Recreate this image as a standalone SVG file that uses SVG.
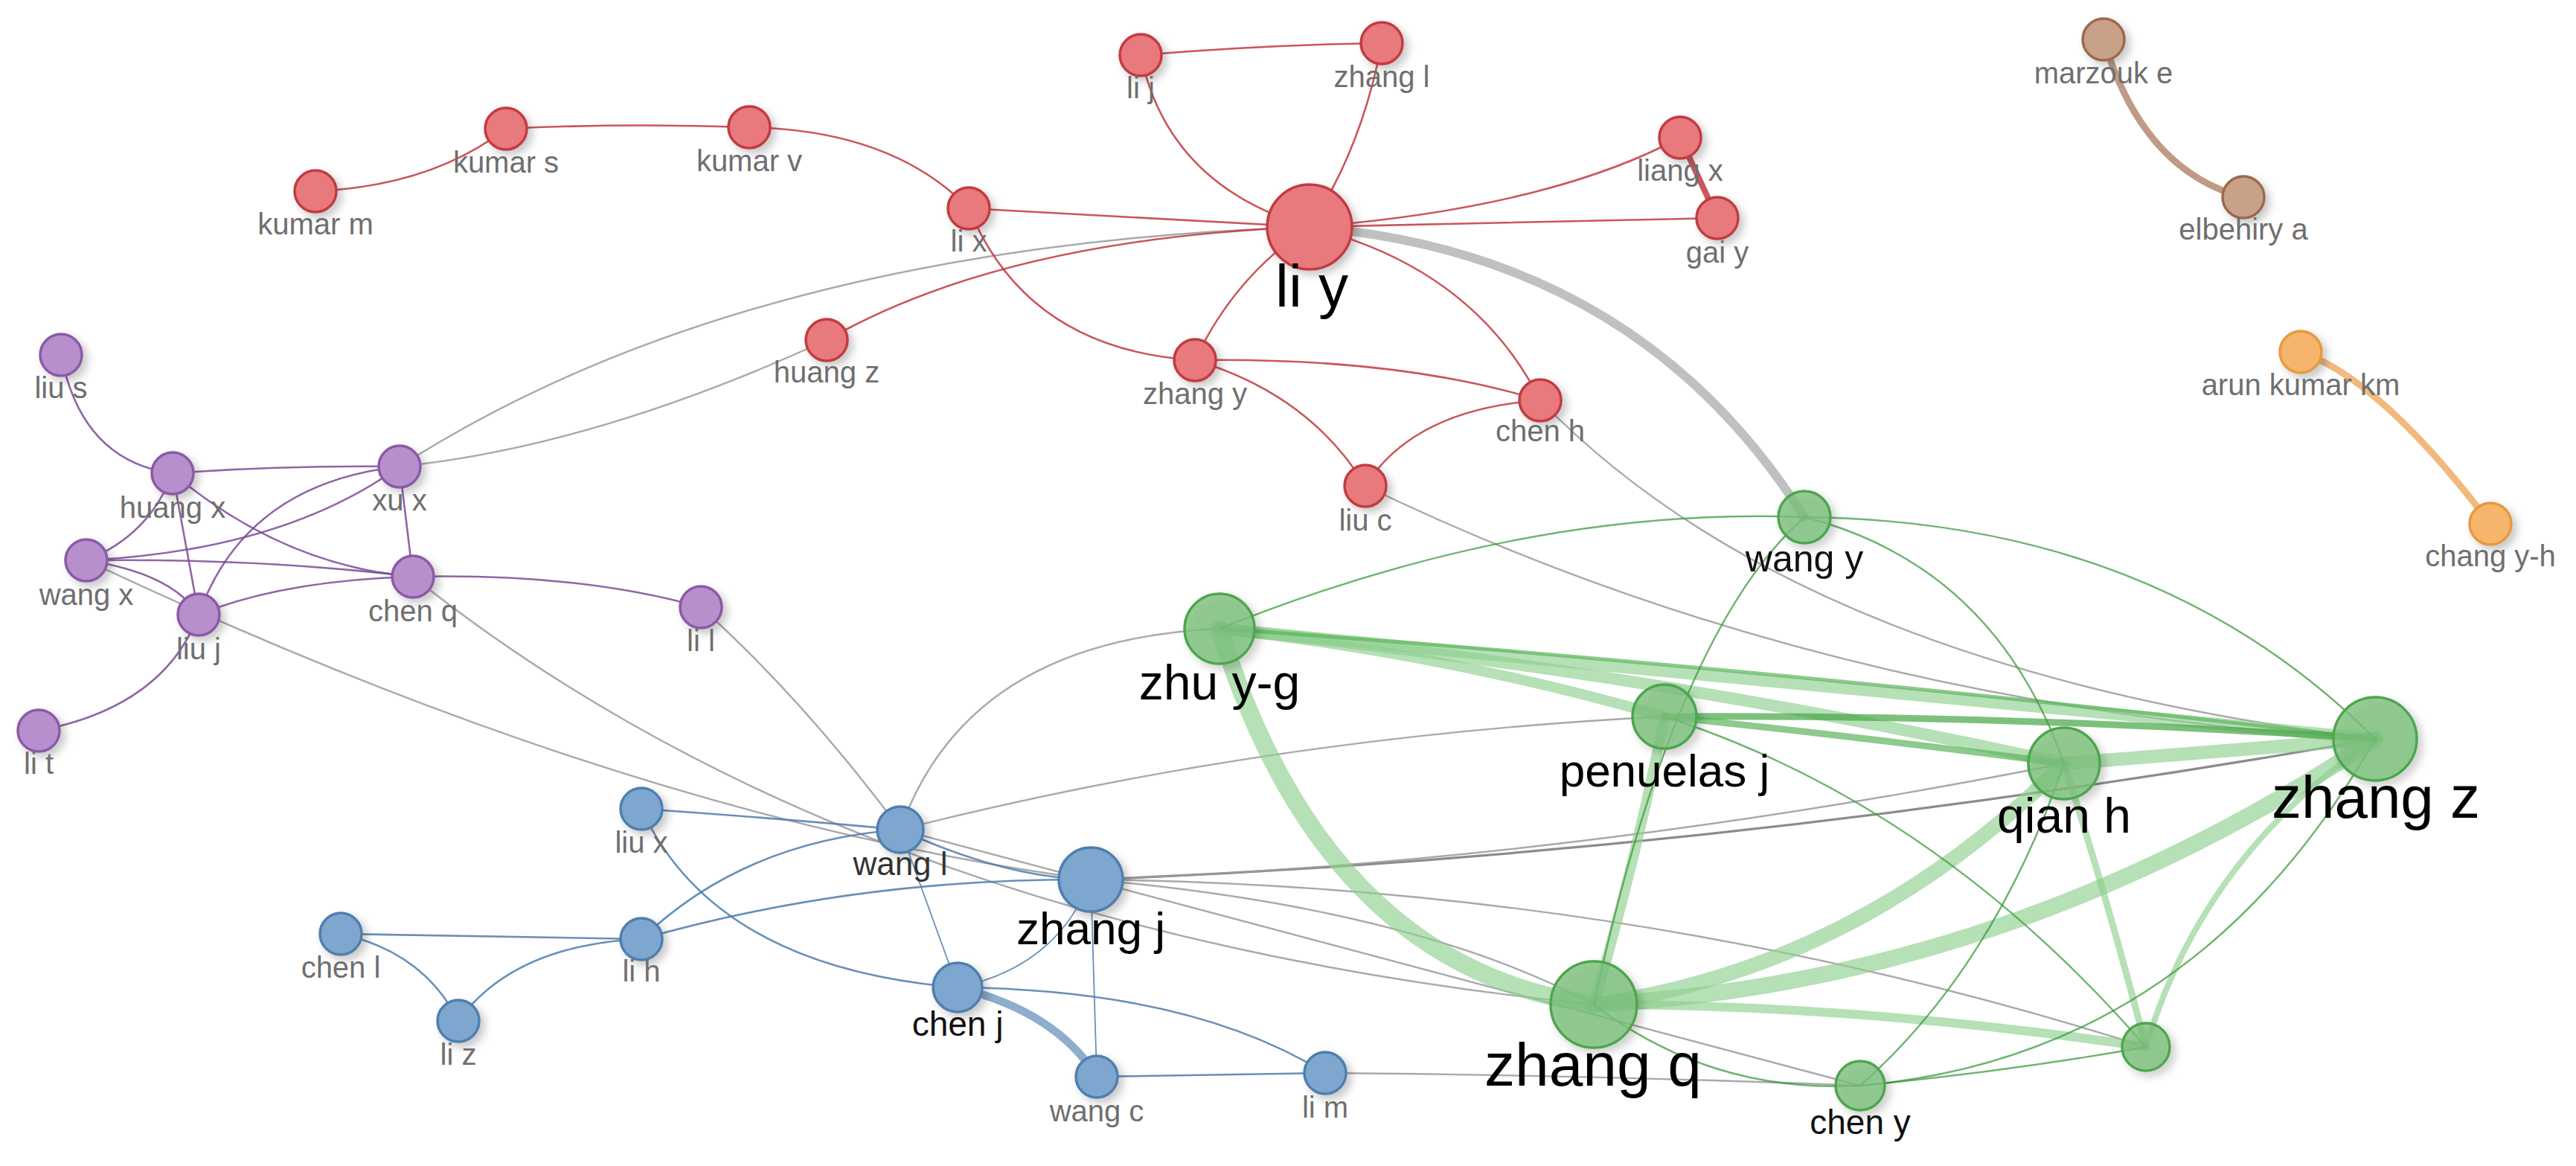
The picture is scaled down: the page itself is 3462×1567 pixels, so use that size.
<svg xmlns="http://www.w3.org/2000/svg" width="3462" height="1567" viewBox="0 0 3462 1567">
<style>
.e{fill:none;stroke-linecap:round}
.r{stroke:#c0393f;stroke-width:2.6;opacity:.85}
.p{stroke:#7b4b96;stroke-width:2.6;opacity:.85}
.b{stroke:#4d7cab;stroke-width:2.6;opacity:.85}
.g{stroke:#3d9a3d;stroke-width:2.4;opacity:.75}
.gk{stroke:#8fcf8f;opacity:.65}
.gd{stroke:#5cb35c;opacity:.7}
.y{stroke:#9a9a9a;stroke-width:2.4;opacity:.85}
.n circle{stroke-width:3.5;filter:url(#sh)}
.nr circle{fill:#e8797c;stroke:#c23a3f}
.np circle{fill:#b68fcc;stroke:#8a5aa6}
.nb circle{fill:#7ea7cf;stroke:#4f7fae}
.ng circle{fill:#7cc07c;fill-opacity:.8;stroke:#4ea64e}
.nw circle{fill:#c9a088;stroke:#9b6a4e}
.no circle{fill:#f6b46c;stroke:#e59a40}
text{font-family:"Liberation Sans",Arial,sans-serif;text-anchor:middle}
.s{font-size:40px;fill:#6f6f6f}
.m{font-size:46px;fill:#111}
.l{fill:#000}
</style>
<defs>
<filter id="sh" x="-50%" y="-50%" width="200%" height="200%">
<feDropShadow dx="6" dy="6" stdDeviation="6" flood-color="#000" flood-opacity="0.22"/>
</filter>
</defs>
<rect width="3462" height="1567" fill="#fff"/>
<g id="connectors">
<!-- gray inter-cluster -->
<path class="e y" d="M1760,305 Q2200,340 2425,695" style="stroke:#bdbdbd;stroke-width:12;opacity:.95"/>
<path class="e y" d="M537,627 Q1000,330 1760,305"/>
<path class="e y" d="M537,627 Q800,600 1111,457"/>
<path class="e y" d="M1835,653 Q2450,950 3192,993"/>
<path class="e y" d="M2070,538 Q2420,900 3192,993"/>
<path class="e y" d="M942,816 Q1080,940 1210,1115"/>
<path class="e y" d="M1210,1115 Q1300,860 1639,845"/>
<path class="e y" d="M1210,1115 Q1700,990 2237,963"/>
<path class="e y" d="M116,753 Q850,1100 1466,1182"/>
<path class="e y" d="M555,775 Q1150,1250 2142,1350"/>
<path class="e y" d="M1466,1182 Q2300,1150 3192,993" style="stroke-width:3.2;stroke:#777"/>
<path class="e y" d="M1466,1182 Q2100,1160 2774,1026"/>
<path class="e y" d="M1466,1182 Q2200,1190 2884,1407"/>
<path class="e y" d="M1466,1182 Q1900,1220 2142,1350"/>
<path class="e y" d="M1210,1115 Q1900,1300 2500,1459"/>
<path class="e y" d="M1781,1442 Q2150,1445 2500,1459"/>
<!-- red -->
<path class="e r" d="M424,257 Q580,250 680,173"/>
<path class="e r" d="M680,173 Q843,165 1007,171"/>
<path class="e r" d="M1007,171 Q1200,175 1302,280"/>
<path class="e r" d="M1302,280 Q1500,290 1760,305"/>
<path class="e r" d="M1302,280 Q1380,470 1606,484"/>
<path class="e r" d="M1111,457 Q1350,320 1760,305"/>
<path class="e r" d="M1533,74 Q1700,60 1857,58"/>
<path class="e r" d="M1533,74 Q1570,250 1760,305"/>
<path class="e r" d="M1857,58 Q1830,200 1760,305"/>
<path class="e r" d="M1760,305 Q2080,280 2258,185"/>
<path class="e r" d="M1760,305 Q2030,300 2308,293"/>
<path class="e r" d="M2258,185 L2308,293" style="stroke-width:8"/>
<path class="e r" d="M1760,305 Q1980,360 2070,538"/>
<path class="e r" d="M1760,305 Q1660,370 1606,484"/>
<path class="e r" d="M1606,484 Q1880,480 2070,538"/>
<path class="e r" d="M1606,484 Q1760,530 1835,653"/>
<path class="e r" d="M1835,653 Q1900,550 2070,538"/>
<!-- brown / orange -->
<path class="e" d="M2827,53 Q2880,230 3015,265" style="stroke:#b48a70;stroke-width:9;opacity:.85"/>
<path class="e" d="M3092,473 Q3200,510 3347,704" style="stroke:#f0ad68;stroke-width:9;opacity:.85"/>
<!-- purple -->
<path class="e p" d="M82,477 Q110,620 232,636"/>
<path class="e p" d="M232,636 Q380,625 537,627"/>
<path class="e p" d="M232,636 Q200,720 116,753"/>
<path class="e p" d="M232,636 L267,826"/>
<path class="e p" d="M232,636 Q380,760 555,775"/>
<path class="e p" d="M116,753 Q380,740 537,627"/>
<path class="e p" d="M116,753 Q350,750 555,775"/>
<path class="e p" d="M116,753 Q230,770 267,826"/>
<path class="e p" d="M267,826 Q330,650 537,627"/>
<path class="e p" d="M267,826 Q380,780 555,775"/>
<path class="e p" d="M52,982 Q220,950 267,826"/>
<path class="e p" d="M537,627 L555,775"/>
<path class="e p" d="M555,775 Q780,770 942,816"/>
<!-- blue -->
<path class="e b" d="M862,1087 Q1050,1100 1210,1115"/>
<path class="e b" d="M862,1087 Q960,1300 1287,1327"/>
<path class="e b" d="M862,1262 Q1000,1130 1210,1115"/>
<path class="e b" d="M862,1262 Q1150,1180 1466,1182"/>
<path class="e b" d="M458,1255 L862,1262"/>
<path class="e b" d="M458,1255 Q570,1280 616,1372"/>
<path class="e b" d="M616,1372 Q690,1270 862,1262"/>
<path class="e b" d="M1210,1115 L1287,1327" style="stroke-width:1.8"/>
<path class="e b" d="M1210,1115 Q1350,1180 1466,1182"/>
<path class="e b" d="M1466,1182 Q1420,1300 1287,1327" style="stroke-width:1.8"/>
<path class="e b" d="M1466,1182 L1474,1447" style="stroke-width:1.8"/>
<path class="e b" d="M1287,1327 Q1420,1360 1474,1447" style="stroke:#7b9fc4;stroke-width:11"/>
<path class="e b" d="M1287,1327 Q1600,1330 1781,1442"/>
<path class="e b" d="M1474,1447 L1781,1442"/>
<!-- green thick -->
<path class="e gk" d="M1639,845 Q1780,1300 2142,1350" style="stroke-width:24"/>
<path class="e gk" d="M2142,1350 Q2700,1320 3192,993" style="stroke-width:22"/>
<path class="e gk" d="M2142,1350 Q2500,1300 2774,1026" style="stroke-width:20"/>
<path class="e gk" d="M2142,1350 Q2200,1150 2237,963" style="stroke-width:14"/>
<path class="e gk" d="M2142,1350 Q2500,1350 2884,1407" style="stroke-width:12"/>
<path class="e gk" d="M2774,1026 L3192,993" style="stroke-width:18"/>
<path class="e gk" d="M2774,1026 Q2830,1200 2884,1407" style="stroke-width:9"/>
<path class="e gk" d="M3192,993 Q2960,1150 2884,1407" style="stroke-width:8"/>
<path class="e gk" d="M1639,845 Q2400,920 3192,993" style="stroke-width:16"/>
<path class="e gk" d="M1639,845 Q2200,900 2774,1026" style="stroke-width:16"/>
<path class="e gk" d="M1639,845 Q1950,880 2237,963" style="stroke-width:14"/>
<path class="e gd" d="M1639,845 Q2300,890 3192,993" style="stroke-width:5"/>
<path class="e gd" d="M2237,963 Q2700,960 3192,993" style="stroke-width:9;stroke:#45a545"/>
<path class="e gd" d="M2237,963 Q2500,990 2774,1026" style="stroke-width:9"/>
<!-- green thin -->
<path class="e g" d="M1639,845 Q2050,680 2425,695"/>
<path class="e g" d="M2425,695 Q2900,700 3192,993"/>
<path class="e g" d="M2425,695 Q2250,850 2142,1350"/>
<path class="e g" d="M2425,695 Q2680,760 2774,1026"/>
<path class="e g" d="M2237,963 Q2600,1080 2884,1407"/>
<path class="e g" d="M2774,1026 Q2680,1300 2500,1459"/>
<path class="e g" d="M3192,993 Q2950,1420 2500,1459"/>
<path class="e g" d="M2500,1459 Q2700,1440 2884,1407"/>
<path class="e g" d="M2142,1350 Q2300,1470 2500,1459"/>
</g>
<g id="nodes">
<g id="n-kumar-m" class="n nr"><circle cx="424" cy="257" r="28"/><text class="s" x="424" y="315">kumar m</text></g>
<g id="n-kumar-s" class="n nr"><circle cx="680" cy="173" r="28"/><text class="s" x="680" y="232">kumar s</text></g>
<g id="n-kumar-v" class="n nr"><circle cx="1007" cy="171" r="28"/><text class="s" x="1007" y="230">kumar v</text></g>
<g id="n-li-x" class="n nr"><circle cx="1302" cy="280" r="28"/><text class="s" x="1302" y="338">li x</text></g>
<g id="n-huang-z" class="n nr"><circle cx="1111" cy="457" r="28"/><text class="s" x="1111" y="514">huang z</text></g>
<g id="n-li-j" class="n nr"><circle cx="1533" cy="74" r="28"/><text class="s" x="1533" y="132">li j</text></g>
<g id="n-zhang-l" class="n nr"><circle cx="1857" cy="58" r="28"/><text class="s" x="1857" y="117">zhang l</text></g>
<g id="n-li-y" class="n nr"><circle cx="1760" cy="305" r="57"/><text class="l" style="font-size:80px" x="1763" y="412">li y</text></g>
<g id="n-liang-x" class="n nr"><circle cx="2258" cy="185" r="28"/><text class="s" x="2258" y="243">liang x</text></g>
<g id="n-gai-y" class="n nr"><circle cx="2308" cy="293" r="28"/><text class="s" x="2308" y="353">gai y</text></g>
<g id="n-zhang-y" class="n nr"><circle cx="1606" cy="484" r="28"/><text class="s" x="1606" y="543">zhang y</text></g>
<g id="n-chen-h" class="n nr"><circle cx="2070" cy="538" r="28"/><text class="s" x="2070" y="593">chen h</text></g>
<g id="n-liu-c" class="n nr"><circle cx="1835" cy="653" r="28"/><text class="s" x="1835" y="713">liu c</text></g>
<g id="n-marzouk-e" class="n nw"><circle cx="2827" cy="53" r="28"/><text class="s" x="2827" y="112">marzouk e</text></g>
<g id="n-elbehiry-a" class="n nw"><circle cx="3015" cy="265" r="28"/><text class="s" x="3015" y="322">elbehiry a</text></g>
<g id="n-arun-kumar-km" class="n no"><circle cx="3092" cy="473" r="28"/><text class="s" x="3092" y="531">arun kumar km</text></g>
<g id="n-chang-y-h" class="n no"><circle cx="3347" cy="704" r="28"/><text class="s" x="3347" y="761">chang y-h</text></g>
<g id="n-liu-s" class="n np"><circle cx="82" cy="477" r="28"/><text class="s" x="82" y="535">liu s</text></g>
<g id="n-huang-x" class="n np"><circle cx="232" cy="636" r="28"/><text class="s" x="232" y="696">huang x</text></g>
<g id="n-xu-x" class="n np"><circle cx="537" cy="627" r="28"/><text class="s" x="537" y="686">xu x</text></g>
<g id="n-wang-x" class="n np"><circle cx="116" cy="753" r="28"/><text class="s" x="116" y="813">wang x</text></g>
<g id="n-chen-q" class="n np"><circle cx="555" cy="775" r="28"/><text class="s" x="555" y="835">chen q</text></g>
<g id="n-liu-j" class="n np"><circle cx="267" cy="826" r="28"/><text class="s" x="267" y="886">liu j</text></g>
<g id="n-li-l" class="n np"><circle cx="942" cy="816" r="28"/><text class="s" x="942" y="875">li l</text></g>
<g id="n-li-t" class="n np"><circle cx="52" cy="982" r="28"/><text class="s" x="52" y="1040">li t</text></g>
<g id="n-liu-x" class="n nb"><circle cx="862" cy="1087" r="28"/><text class="s" x="862" y="1146">liu x</text></g>
<g id="n-wang-l" class="n nb"><circle cx="1210" cy="1115" r="31"/><text class="s" style="font-size:44px;fill:#333" x="1210" y="1176">wang l</text></g>
<g id="n-zhang-j" class="n nb"><circle cx="1466" cy="1182" r="43"/><text class="l" style="font-size:62px" x="1466" y="1269">zhang j</text></g>
<g id="n-chen-l" class="n nb"><circle cx="458" cy="1255" r="28"/><text class="s" x="458" y="1314">chen l</text></g>
<g id="n-li-h" class="n nb"><circle cx="862" cy="1262" r="28"/><text class="s" x="862" y="1319">li h</text></g>
<g id="n-li-z" class="n nb"><circle cx="616" cy="1372" r="28"/><text class="s" x="616" y="1431">li z</text></g>
<g id="n-chen-j" class="n nb"><circle cx="1287" cy="1327" r="33"/><text class="m" x="1287" y="1392">chen j</text></g>
<g id="n-wang-c" class="n nb"><circle cx="1474" cy="1447" r="28"/><text class="s" x="1474" y="1507">wang c</text></g>
<g id="n-li-m" class="n nb"><circle cx="1781" cy="1442" r="28"/><text class="s" x="1781" y="1502">li m</text></g>
<g id="n-wang-y" class="n ng"><circle cx="2425" cy="695" r="35"/><text class="m" style="font-size:50px" x="2425" y="768">wang y</text></g>
<g id="n-zhu-y-g" class="n ng"><circle cx="1639" cy="845" r="47"/><text class="l" style="font-size:66px" x="1639" y="940">zhu y-g</text></g>
<g id="n-penuelas-j" class="n ng"><circle cx="2237" cy="963" r="43"/><text class="l" style="font-size:62px" x="2237" y="1057">penuelas j</text></g>
<g id="n-qian-h" class="n ng"><circle cx="2774" cy="1026" r="48"/><text class="l" style="font-size:66px" x="2774" y="1119">qian h</text></g>
<g id="n-zhang-z" class="n ng"><circle cx="3192" cy="993" r="56"/><text class="l" style="font-size:80px" x="3193" y="1099">zhang z</text></g>
<g id="n-zhang-q" class="n ng"><circle cx="2142" cy="1350" r="58"/><text class="l" style="font-size:82px" x="2141" y="1459">zhang q</text></g>
<g id="n-chen-y" class="n ng"><circle cx="2500" cy="1459" r="33"/><text class="m" x="2500" y="1524">chen y</text></g>
<g id="n-unlabeled" class="n ng"><circle cx="2884" cy="1407" r="32"/></g>
</g>
</svg>
